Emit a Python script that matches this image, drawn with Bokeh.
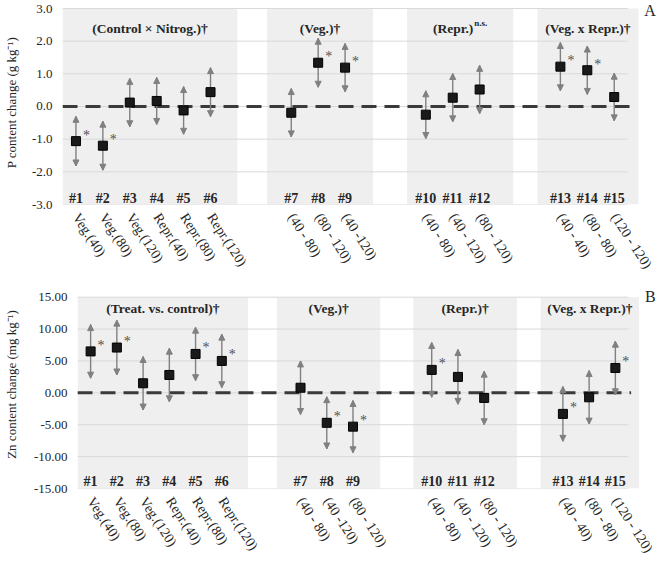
import math
from bokeh.plotting import figure
from bokeh.models import ColumnDataSource, FixedTicker, PrintfTickFormatter, Whisker, NormalHead
from bokeh.core.properties import value
from bokeh.embed import file_html
from bokeh.resources import INLINE

# ---- data -------------------------------------------------------------
codes = ["#1", "#2", "#3", "#4", "#5", "#6", "#7", "#8", "#9",
         "#10", "#11", "#12", "#13", "#14", "#15"]

labels_p = ["Veg.(40)", "Veg.(80)", "Veg.(120)", "Repr.(40)", "Repr.(80)", "Repr.(120)",
            "(40 - 80)", "(80 - 120)", "(40 -120)",
            "(40 - 80)", "(40 - 120)", "(80 - 120)",
            "(40 - 40)", "(80 - 80)", "(120 - 120)"]
labels_zn = ["Veg.(40)", "Veg.(80)", "Veg.(120)", "Repr.(40)", "Repr.(80)", "Repr.(120)",
             "(40 - 80)", "(40 -120)", "(80 - 120)",
             "(40 - 80)", "(40 - 120)", "(80 - 120)",
             "(40 - 40)", "(80 - 80)", "(120 - 120)"]

p_change = [-1.06, -1.20, 0.12, 0.17, -0.12, 0.44, -0.19, 1.34, 1.19,
            -0.25, 0.27, 0.52, 1.22, 1.11, 0.29]
p_err = [0.76, 0.75, 0.74, 0.72, 0.73, 0.75, 0.74, 0.75, 0.74,
         0.73, 0.74, 0.74, 0.74, 0.74, 0.73]
p_sig = [True, True, False, False, False, False, False, True, True,
         False, False, False, True, True, False]

zn_change = [6.5, 7.1, 1.5, 2.8, 6.1, 5.0, 0.8, -4.7, -5.3,
             3.6, 2.5, -0.8, -3.3, -0.7, 3.9]
zn_err = [4.2, 4.3, 4.2, 4.2, 4.2, 4.2, 4.2, 4.1, 4.1,
          4.3, 4.3, 4.2, 4.3, 4.2, 4.2]
zn_sig = [True, True, False, False, True, True, False, True, True,
          True, False, False, True, False, True]

group_sizes = [6, 3, 3, 3]
titles_p = ["(Control × Nitrog.)†", "(Veg.)†", "(Repr.)", "(Veg. x Repr.)†"]
sups_p = ["", "", "n.s.", ""]
titles_zn = ["(Treat. vs. control)†", "(Veg.)†", "(Repr.)†", "(Veg. x Repr.)†"]
sups_zn = ["", "", "", ""]

p_ticks = [-3, -2, -1, 0, 1, 2, 3]
zn_ticks = [-15, -10, -5, 0, 5, 10, 15]

# ---- layout helpers ----------------------------------------------------
# category slots: groups are separated by two empty categories
slots = []
pos = 1
for n in group_sizes:
    slots.extend(range(pos, pos + n))
    pos += n + 2
N_SLOTS = pos - 3

BANDS = [(0.5, 7.0), (8.1, 12.04), (13.3, 17.25), (18.15, 21.9)]
X_END = 22.72
SERIF = "Liberation Serif"
TXT = "#262626"
GRID = "#d9d9d9"
SHADE = "#efefef"
BAR = "#808080"


def panel(vals, errs, sig, ticklabels, titles, sups, ticks, fmt, ylabel, letter,
          height, left, bottom, y_top, code_y, title_y, letter_y, ylabel_standoff):
    p = figure(width=660, height=height, x_range=(0.5, X_END),
               y_range=(ticks[0], y_top), output_backend="svg",
               toolbar_location=None, min_border_left=left, min_border_right=0,
               min_border_top=0, min_border_bottom=bottom)
    p.outline_line_color = None
    p.xgrid.visible = False
    p.ygrid.visible = False
    p.background_fill_color = "white"

    # shaded factor bands
    p.quad(left=[b[0] for b in BANDS], right=[b[1] for b in BANDS],
           bottom=ticks[0], top=ticks[-1], fill_color=SHADE, line_color=None,
           level="image")
    # horizontal gridlines
    p.segment(x0=0.5, x1=N_SLOTS + 0.5, y0=ticks, y1=ticks,
              line_color=GRID, line_width=1, level="image")
    # zero reference
    p.segment(x0=[0.5], x1=[N_SLOTS + 0.6], y0=[0], y1=[0], line_color="#3a3a3a",
              line_width=3, line_dash="15 8", level="image")

    src = ColumnDataSource(dict(x=slots, y=vals,
                                upper=[v + e for v, e in zip(vals, errs)],
                                lower=[v - e for v, e in zip(vals, errs)],
                                code=codes))
    w = Whisker(source=src, base="x", upper="upper", lower="lower",
                line_color=BAR, line_width=1.4, level="underlay",
                upper_head=NormalHead(size=6, fill_color=BAR, line_color=BAR),
                lower_head=NormalHead(size=6, fill_color=BAR, line_color=BAR))
    p.add_layout(w)

    p.scatter("x", "y", source=src, marker="square", size=9,
              fill_color="#1a1a1a", line_color="#000000")

    sx = [s for s, f in zip(slots, sig) if f]
    sy = [v for v, f in zip(vals, sig) if f]
    p.text(x=sx, y=sy, text=["*"] * len(sx), x_offset=7, y_offset=-6,
           text_font=value(SERIF), text_font_size="14px", text_color="#505050",
           text_baseline="middle", text_align="left")

    # sample codes along the bottom
    p.text(x="x", y=code_y, text="code", source=src, text_font=value(SERIF),
           text_font_size="14px", text_font_style="bold", text_color=TXT,
           text_align="center", text_baseline="middle")

    # factor titles
    cx = [(b[0] + b[1]) / 2 for b in BANDS]
    sup_idx = [i for i, s in enumerate(sups) if s]
    main_off = [(-7 if sups[i] else 0) for i in range(len(titles))]
    p.text(x=cx, y=title_y, text=titles, x_offset=main_off,
           text_font=value(SERIF), text_font_size="13.5px", text_font_style="bold",
           text_color=TXT, text_align="center", text_baseline="middle")
    if sup_idx:
        p.text(x=[cx[i] for i in sup_idx], y=title_y, text=[sups[i] for i in sup_idx],
               x_offset=14, y_offset=-5, text_font=value(SERIF), text_font_size="9px",
               text_font_style="bold", text_color=TXT, text_align="left",
               text_baseline="middle")

    # panel letter
    p.text(x=[22.33], y=[letter_y], text=[letter], text_font=value(SERIF),
           text_font_size="16px", text_color=TXT, text_align="center",
           text_baseline="middle")

    # axes
    p.yaxis.ticker = FixedTicker(ticks=ticks)
    p.yaxis.formatter = PrintfTickFormatter(format=fmt)
    p.yaxis.axis_label = ylabel
    p.yaxis.axis_label_text_font = SERIF
    p.yaxis.axis_label_text_font_style = "normal"
    p.yaxis.axis_label_text_font_size = "13px"
    p.yaxis.axis_label_text_color = TXT
    p.yaxis.axis_label_standoff = ylabel_standoff
    p.yaxis.major_label_text_font = SERIF
    p.yaxis.major_label_text_font_size = "13px"
    p.yaxis.major_label_text_color = TXT
    p.yaxis.major_label_standoff = 10
    p.yaxis.major_tick_out = 0
    p.yaxis.major_tick_in = 0
    p.yaxis.axis_line_color = None
    p.yaxis.major_tick_line_color = None
    p.yaxis.minor_tick_line_color = None

    p.xaxis.ticker = FixedTicker(ticks=slots)
    p.xaxis.major_label_overrides = {s: lab for s, lab in zip(slots, ticklabels)}
    p.xaxis.major_label_orientation = -math.radians(57)
    p.xaxis.major_label_text_font = SERIF
    p.xaxis.major_label_text_font_size = "14px"
    p.xaxis.major_label_text_color = TXT
    p.xaxis.major_label_standoff = 10
    p.xaxis.major_tick_out = 0
    p.xaxis.major_tick_in = 0
    p.xaxis.axis_line_color = None
    p.xaxis.major_tick_line_color = None
    p.xaxis.minor_tick_line_color = None
    return p


# P panel: 32.67 px per unit, 3.0 sits 8 px below the top edge
pa = panel(p_change, p_err, p_sig, labels_p, titles_p, sups_p, p_ticks, "%.1f",
           "P content change (g kg⁻¹)", "A", 280, 60, 76, 3 + 8 / 32.67,
           -2.82, 2.39, 2.94, 10)
# Zn panel: 6.5 px per unit, 15.00 sits 17 px below the top edge
pb = panel(zn_change, zn_err, zn_sig, labels_zn, titles_zn, sups_zn, zn_ticks, "%.2f",
           "Zn content change (mg kg⁻¹)", "B", 282, 75, 70, 15 + 17 / 6.5,
           -13.9, 13.3, 15.15, 12)

open("out.html", "w").write(file_html([pa, pb], INLINE))
